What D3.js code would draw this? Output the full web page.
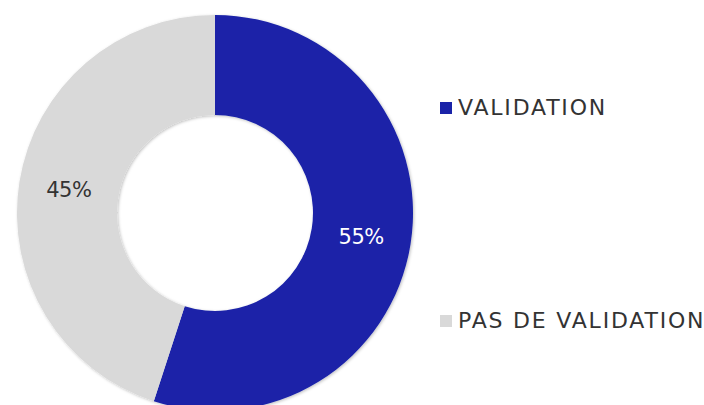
<!DOCTYPE html>
<html>
<head>
<meta charset="utf-8">
<script src="https://cdn.jsdelivr.net/npm/d3@7"></script>
<style>
  body { margin: 0; background: #fff; }
  svg { display: block; font-family: "DejaVu Sans", sans-serif; }
</style>
</head>
<body>
<svg id="donut" width="704" height="405"></svg>
<script>
const categories = ["VALIDATION", "PAS DE VALIDATION"];
const shares = [55, 45];
const sliceColors = ["#1a23a8", "#d9d9d9"];
const labelColors = ["#ffffff", "#333333"];

function drawDonut() {
  const svg = d3.select("#donut");

  // Donut geometry.
  const cx = 215, cy = 213;
  const outerR = 198, innerR = 98;

  const defs = svg.append("defs");
  const shadow = defs.append("filter")
    .attr("id", "shadow")
    .attr("x", "-10%").attr("y", "-10%")
    .attr("width", "120%").attr("height", "120%");
  shadow.append("feDropShadow")
    .attr("dx", 1).attr("dy", 1)
    .attr("stdDeviation", 1.5)
    .attr("flood-color", "#000")
    .attr("flood-opacity", 0.25);

  const data = categories.map((c, i) => ({ name: c, value: shares[i], i }));

  const pie = d3.pie()
    .sort(null)
    .value(d => d.value);

  const arc = d3.arc()
    .innerRadius(innerR)
    .outerRadius(outerR);

  const labelArc = d3.arc()
    .innerRadius((innerR + outerR) / 2)
    .outerRadius((innerR + outerR) / 2);

  const g = svg.append("g")
    .attr("transform", `translate(${cx}, ${cy})`);

  const arcs = pie(data);

  g.append("g")
    .attr("filter", "url(#shadow)")
    .selectAll("path")
    .data(arcs)
    .join("path")
    .attr("d", arc)
    .attr("fill", d => sliceColors[d.data.i]);

  // Percent labels
  g.selectAll("text.pct")
    .data(arcs)
    .join("text")
    .attr("class", "pct")
    .attr("transform", d => `translate(${labelArc.centroid(d)})`)
    .attr("text-anchor", "middle")
    .attr("dy", "0.36em")
    .attr("font-size", "21px")
    .attr("letter-spacing", "-0.5px")
    .attr("fill", d => labelColors[d.data.i])
    .text(d => d.data.value + "%");

  // Legend
  const legendY = d3.scalePoint()
    .domain(categories)
    .range([107, 320]);

  const legend = svg.append("g")
    .selectAll("g")
    .data(data)
    .join("g")
    .attr("transform", d => `translate(440, ${legendY(d.name)})`);

  legend.append("rect")
    .attr("x", 0)
    .attr("y", -5)
    .attr("width", 12)
    .attr("height", 12)
    .attr("fill", d => sliceColors[d.i]);

  legend.append("text")
    .attr("x", 18)
    .attr("dy", "0.36em")
    .attr("font-size", "22px")
    .attr("letter-spacing", "1.8px")
    .attr("fill", "#333")
    .text(d => d.name);
}

drawDonut();
</script>
</body>
</html>
